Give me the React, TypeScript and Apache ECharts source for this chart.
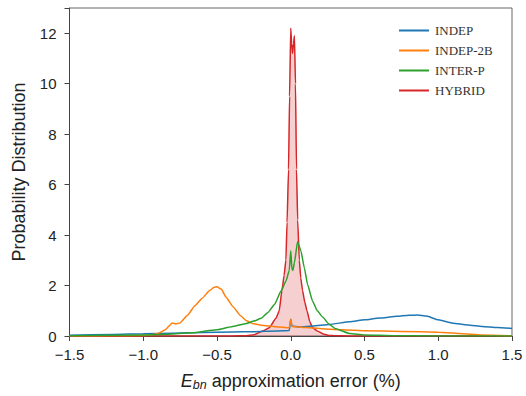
import React, { useEffect, useRef } from "react";
import * as echarts from "echarts";

const seriesNames = ["INDEP", "INDEP-2B", "INTER-P", "HYBRID"];
const colors = ["#1f77b4", "#ff7f0e", "#2ca02c", "#d62728"];

const xTicks = [-1.5, -1.0, -0.5, 0.0, 0.5, 1.0, 1.5];
const yTicks = [0, 2, 4, 6, 8, 10, 12];

const indepX = [-1.5, -1.2, -1.0, -0.8, -0.6, -0.4, -0.25, -0.1, -0.01, 0.0, 0.008, 0.06, 0.15, 0.26, 0.4, 0.5, 0.6, 0.72, 0.8, 0.86, 0.92, 1.0, 1.1, 1.2, 1.3, 1.4, 1.5];
const indepY = [0.03, 0.06, 0.09, 0.11, 0.14, 0.16, 0.17, 0.2, 0.22, 0.66, 0.4, 0.36, 0.4, 0.46, 0.56, 0.64, 0.71, 0.78, 0.82, 0.83, 0.79, 0.64, 0.51, 0.44, 0.38, 0.34, 0.3];

const indep2bX = [-1.5, -1.2, -1.0, -0.95, -0.9, -0.85, -0.82, -0.805, -0.78, -0.75, -0.7, -0.65, -0.6, -0.55, -0.52, -0.5, -0.47, -0.44, -0.39, -0.34, -0.3, -0.26, -0.2, -0.1, -0.01, 0.0, 0.008, 0.1, 0.26, 0.5, 0.75, 1.0, 1.2, 1.3, 1.5];
const indep2bY = [0.0, 0.005, 0.02, 0.04, 0.1, 0.25, 0.42, 0.52, 0.48, 0.52, 0.82, 1.2, 1.5, 1.8, 1.93, 1.95, 1.85, 1.55, 1.15, 0.8, 0.6, 0.5, 0.43, 0.37, 0.33, 0.66, 0.38, 0.34, 0.27, 0.21, 0.18, 0.15, 0.08, 0.04, 0.01];

const interpX = [-1.5, -1.0, -0.8, -0.67, -0.5, -0.4, -0.3, -0.25, -0.2, -0.157, -0.11, -0.066, -0.033, -0.01, 0.0, 0.008, 0.014, 0.025, 0.046, 0.069, 0.092, 0.114, 0.148, 0.18, 0.216, 0.26, 0.3, 0.4, 0.5, 0.7, 1.0, 1.5];
const interpY = [0.005, 0.04, 0.08, 0.13, 0.25, 0.37, 0.5, 0.59, 0.7, 0.92, 1.25, 1.78, 2.17, 2.6, 3.38, 2.64, 2.6, 2.9, 3.74, 3.37, 2.7, 2.04, 1.38, 1.0, 0.75, 0.47, 0.3, 0.1, 0.04, 0.01, 0.0, 0.0];

const hybridX = [-1.5, -0.4, -0.3, -0.25, -0.19, -0.146, -0.1, -0.078, -0.06, -0.045, -0.033, -0.025, -0.015, -0.008, 0.0, 0.006, 0.012, 0.019, 0.025, 0.032, 0.039, 0.047, 0.058, 0.068, 0.08, 0.095, 0.11, 0.13, 0.148, 0.18, 0.22, 0.26, 0.3, 0.4, 1.5];
const hybridY = [0.0, 0.0, 0.01, 0.05, 0.2, 0.33, 0.7, 1.0, 1.8, 2.4, 3.0, 4.5, 6.6, 9.5, 12.2, 11.6, 11.2, 11.6, 11.9, 10.0, 6.6, 4.6, 3.0, 2.3, 1.8, 1.35, 1.0, 0.55, 0.33, 0.2, 0.08, 0.02, 0.01, 0.0, 0.0];

const seriesX = [indepX, indep2bX, interpX, hybridX];
const seriesY = [indepY, indep2bY, interpY, hybridY];

const fmt = (v: number) => {
  const s = Math.abs(v).toFixed(1);
  return v < 0 ? "\u2212" + s : s;
};

export default function App() {
  const ref = useRef<HTMLDivElement>(null);
  useEffect(() => {
    if (!ref.current) return;
    const chart = echarts.init(ref.current, null, { renderer: "svg" });
    const sansFont = "Liberation Sans";
    const axisColor = "#444";
    chart.setOption({
      animation: false,
      backgroundColor: "#ffffff",
      grid: {
        left: 69.5,
        right: 14,
        top: 8,
        bottom: 59.5,
        show: true,
        borderColor: "#666",
        borderWidth: 1,
        backgroundColor: "transparent",
      },
      legend: {
        orient: "vertical",
        left: 394,
        top: 19,
        itemWidth: 30,
        itemHeight: 2,
        itemGap: 7,
        icon: "rect",
        data: seriesNames,
        textStyle: {
          fontFamily: "Liberation Serif",
          fontSize: 13,
          color: "#333",
          lineHeight: 13,
          padding: [0, 0, 0, 1],
        },
      },
      xAxis: {
        type: "value",
        min: -1.5,
        max: 1.5,
        interval: 0.5,
        splitLine: { show: false },
        axisLine: { show: true, onZero: false, lineStyle: { color: axisColor, width: 1 } },
        axisTick: { show: true, length: 5, lineStyle: { color: axisColor } },
        axisLabel: {
          margin: 11,
          fontFamily: sansFont,
          fontSize: 15,
          color: "#222",
          formatter: (v: number) => (xTicks.some((t) => Math.abs(t - v) < 1e-9) ? fmt(v) : ""),
          showMinLabel: true,
          showMaxLabel: true,
        },
        name: "{i|E}{s|bn}{n| approximation error (%)}",
        nameLocation: "middle",
        nameGap: 34,
        nameTextStyle: {
          fontFamily: sansFont,
          fontSize: 18,
          color: "#222",
          rich: {
            i: { fontFamily: sansFont, fontSize: 18, fontStyle: "italic", color: "#222" },
            s: { fontFamily: sansFont, fontSize: 12.5, fontStyle: "italic", color: "#222", padding: [8, 0, 0, 0] },
            n: { fontFamily: sansFont, fontSize: 18, color: "#222" },
          },
        },
      },
      yAxis: {
        type: "value",
        min: 0,
        max: 13,
        interval: 2,
        splitLine: { show: false },
        axisLine: { show: true, onZero: false, lineStyle: { color: axisColor, width: 1 } },
        axisTick: { show: true, length: 5, lineStyle: { color: axisColor } },
        axisLabel: {
          margin: 13,
          fontFamily: sansFont,
          fontSize: 15,
          color: "#222",
          formatter: (v: number) => (yTicks.includes(v) ? String(v) : ""),
        },
        name: "Probability Distribution",
        nameLocation: "middle",
        nameGap: 42,
        nameTextStyle: { fontFamily: sansFont, fontSize: 18, color: "#222" },
      },
      series: seriesNames.map((name, i) => ({
        name,
        type: "line",
        symbol: "none",
        smooth: 0.15,
        smoothMonotone: "x",
        z: i === 3 ? 1 : 2,
        lineStyle: { color: colors[i], width: 1.5 },
        itemStyle: { color: colors[i] },
        areaStyle: i === 3 ? { color: colors[i], opacity: 0.22 } : undefined,
        data: seriesX[i].map((x, k) => [x, seriesY[i][k]]),
      })),
    });
    return () => chart.dispose();
  }, []);
  return <div ref={ref} style={{ width: 526, height: 396, position: "absolute", left: 0, top: 0 }} />;
}
